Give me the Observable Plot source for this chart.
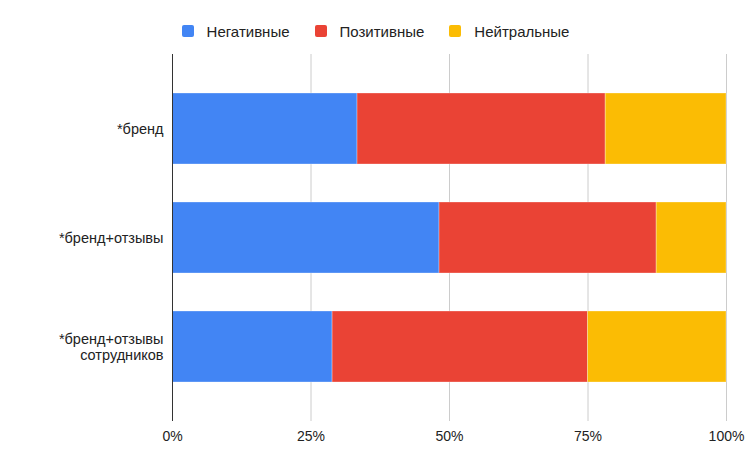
<!DOCTYPE html>
<html>
<head>
<meta charset="utf-8">
<script src="https://cdn.jsdelivr.net/npm/d3@7"></script>
<script src="https://cdn.jsdelivr.net/npm/@observablehq/plot@0.6"></script>
<style>
  html, body { margin: 0; padding: 0; background: #fff; }
  body { width: 751px; height: 464px; overflow: hidden; font-family: Arial, "Liberation Sans", sans-serif; }
  #legend { height: 50px; display: flex; justify-content: center; align-items: center; padding-top: 12px; box-sizing: border-box; font-size: 15px; color: #222; }
  .item { display: flex; align-items: center; margin: 0 12.5px; }
  .sw { width: 12px; height: 12px; border-radius: 2px; margin-right: 13px; }
</style>
</head>
<body>
<div id="legend"></div>
<div id="chart"></div>
<script>
const categories = ["*бренд", "*бренд+отзывы", "*бренд+отзывы\nсотрудников"];
const seriesNames = ["Негативные", "Позитивные", "Нейтральные"];
const colors = ["#4285F4", "#EA4335", "#FBBC04"];
const negative = [33.4, 48.2, 28.9];
const positive = [44.8, 39.2, 46.1];
const neutral = [21.8, 12.6, 25.0];
const xTickLabels = ["0%", "25%", "50%", "75%", "100%"];
const xTicks = [0, 0.25, 0.5, 0.75, 1];

const seriesValues = [negative, positive, neutral];
const data = [];
seriesNames.forEach((s, si) => {
  categories.forEach((c, ci) => data.push({category: c, series: s, value: seriesValues[si][ci]}));
});

const legend = document.getElementById("legend");
seriesNames.forEach((s, i) => {
  const it = document.createElement("div");
  it.className = "item";
  it.innerHTML = `<div class="sw" style="background:${colors[i]}"></div><span>${s}</span>`;
  legend.appendChild(it);
});

const chart = Plot.plot({
  width: 751,
  height: 414,
  marginTop: 4,
  marginBottom: 43,
  marginLeft: 172,
  marginRight: 25,
  style: {fontFamily: "Arial, 'Liberation Sans', sans-serif", fontSize: "14px", color: "#222"},
  x: {domain: [0, 1], label: null},
  y: {domain: categories, padding: 0.35, label: null},
  color: {domain: seriesNames, range: colors},
  marks: [
    Plot.gridX(xTicks, {stroke: "#ccc", strokeOpacity: 1}),
    Plot.barX(data, Plot.stackX({
      x: "value", y: "category", fill: "series", order: seriesNames, offset: "normalize",
      stroke: "#fff", strokeOpacity: 0.3, strokeWidth: 1
    })),
    Plot.ruleX([0], {stroke: "#333", strokeWidth: 1}),
    Plot.axisX(xTicks, {tickSize: 0, tickPadding: 10, tickFormat: (d, i) => xTickLabels[i], fill: "#222", fontSize: 14, label: null}),
    Plot.axisY({tickSize: 0, tickPadding: 9, fill: "#222", fontSize: 14.5, lineHeight: 1.05, label: null})
  ]
});
document.getElementById("chart").appendChild(chart);
</script>
</body>
</html>
